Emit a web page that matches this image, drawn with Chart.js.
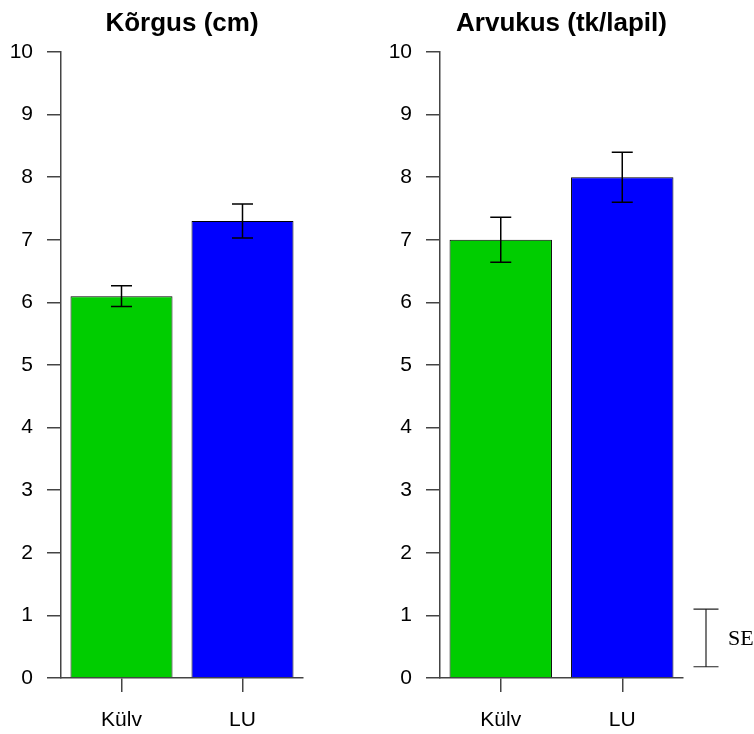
<!DOCTYPE html>
<html>
<head>
<meta charset="utf-8">
<script src="https://cdn.jsdelivr.net/npm/chart.js@4/dist/chart.umd.min.js"></script>
<style>
  html, body { margin: 0; padding: 0; background: #fff; }
  #wrap { position: relative; width: 754px; height: 734px; }
  .panel { position: absolute; top: 0; width: 377px; height: 734px; }
</style>
</head>
<body>
<div id="wrap">
  <div class="panel" style="left:0"><canvas id="korgusChart"></canvas></div>
  <div class="panel" style="left:377px"><canvas id="arvukusChart"></canvas></div>
</div>
<script>
// data
const categories = ['Külv', 'LU'];
const barColors = ['#00cd00', '#0000ff'];
const korgusMeans = [6.1, 7.3];
const korgusSE = [0.165, 0.27];
const arvukusMeans = [7.0, 8.0];
const arvukusSE = [0.36, 0.40];
const yTickValues = [0, 1, 2, 3, 4, 5, 6, 7, 8, 9, 10];
const seLegendRange = [0.18, 1.1]; // bottom and top of the "SE" key bar, in y units

const sans = 'Liberation Sans, Arial, sans-serif';
const axisColor = '#444';

// error bars drawn through the y scale
const errorBars = {
    id: 'errorBars',
    afterDatasetsDraw(chart, args, opts) {
        const ctx = chart.ctx;
        const y = chart.scales.y;
        const meta = chart.getDatasetMeta(0);
        const means = chart.data.datasets[0].data;
        ctx.save();
        ctx.strokeStyle = '#000';
        ctx.lineWidth = 1.5;
        meta.data.forEach((bar, i) => {
            const x = bar.x;
            const top = y.getPixelForValue(means[i] + opts.se[i]);
            const bot = y.getPixelForValue(means[i] - opts.se[i]);
            ctx.beginPath();
            ctx.moveTo(x, top); ctx.lineTo(x, bot);
            ctx.moveTo(x - 10.5, top); ctx.lineTo(x + 10.5, top);
            ctx.moveTo(x - 10.5, bot); ctx.lineTo(x + 10.5, bot);
            ctx.stroke();
        });
        ctx.restore();
    }
};

// "SE" key at the right of the second panel
const seKey = {
    id: 'seKey',
    afterDraw(chart, args, opts) {
        if (!opts.show) return;
        const ctx = chart.ctx;
        const y = chart.scales.y;
        const x = chart.chartArea.right + 23;
        const top = y.getPixelForValue(seLegendRange[1]);
        const bot = y.getPixelForValue(seLegendRange[0]);
        ctx.save();
        ctx.strokeStyle = '#222';
        ctx.lineWidth = 1.2;
        ctx.beginPath();
        ctx.moveTo(x, top); ctx.lineTo(x, bot);
        ctx.moveTo(x - 12.5, top); ctx.lineTo(x + 12.5, top);
        ctx.moveTo(x - 12.5, bot); ctx.lineTo(x + 12.5, bot);
        ctx.stroke();
        ctx.fillStyle = '#000';
        ctx.font = '22px "Liberation Serif", "Times New Roman", serif';
        ctx.textBaseline = 'middle';
        ctx.textAlign = 'left';
        ctx.fillText('SE', x + 22, (top + bot) / 2 + 1);
        ctx.restore();
    }
};

function makeChart(id, title, means, se, axisWidth, rightPad, showKey) {
    const ctx = document.getElementById(id).getContext('2d');
    return new Chart(ctx, {
        type: 'bar',
        data: {
            labels: categories,
            datasets: [{
                data: means,
                backgroundColor: barColors,
                borderColor: '#000',
                borderWidth: 1,
                borderSkipped: 'start',
                barPercentage: 0.843,
                categoryPercentage: 1.0
            }]
        },
        options: {
            responsive: true,
            maintainAspectRatio: false,
            animation: false,
            layout: { padding: { left: 0, right: rightPad, top: 0, bottom: 0 } },
            plugins: {
                legend: { display: false },
                tooltip: { enabled: false },
                title: {
                    display: true,
                    text: title,
                    color: '#000',
                    fullSize: false,
                    font: { family: sans, size: 26, weight: 'bold', lineHeight: 1.2 },
                    padding: { top: 8, bottom: 12.8 }
                },
                errorBars: { se: se },
                seKey: { show: showKey }
            },
            scales: {
                x: {
                    offset: true,
                    grid: { offset: false, drawOnChartArea: false, drawTicks: true, tickLength: 14, color: axisColor, lineWidth: 1.5 },
                    border: { display: true, color: axisColor, width: 1.5 },
                    ticks: { color: '#000', font: { family: sans, size: 21 }, padding: 16, maxRotation: 0 },
                    afterFit(scale) { scale.height = 56; }
                },
                y: {
                    min: 0,
                    max: 10,
                    afterBuildTicks(scale) { scale.ticks = yTickValues.map(v => ({ value: v })); },
                    grid: { drawOnChartArea: false, drawTicks: true, tickLength: 14, color: axisColor, lineWidth: 1.5 },
                    border: { display: true, color: axisColor, width: 1.5 },
                    ticks: { color: '#000', font: { family: sans, size: 21 }, padding: 14 },
                    afterFit(scale) { scale.width = axisWidth; }
                }
            }
        },
        plugins: [errorBars, seKey]
    });
}

makeChart('korgusChart', 'Kõrgus (cm)', korgusMeans, korgusSE, 61, 74, false);
makeChart('arvukusChart', 'Arvukus (tk/lapil)', arvukusMeans, arvukusSE, 63, 71, true);
</script>
</body>
</html>
